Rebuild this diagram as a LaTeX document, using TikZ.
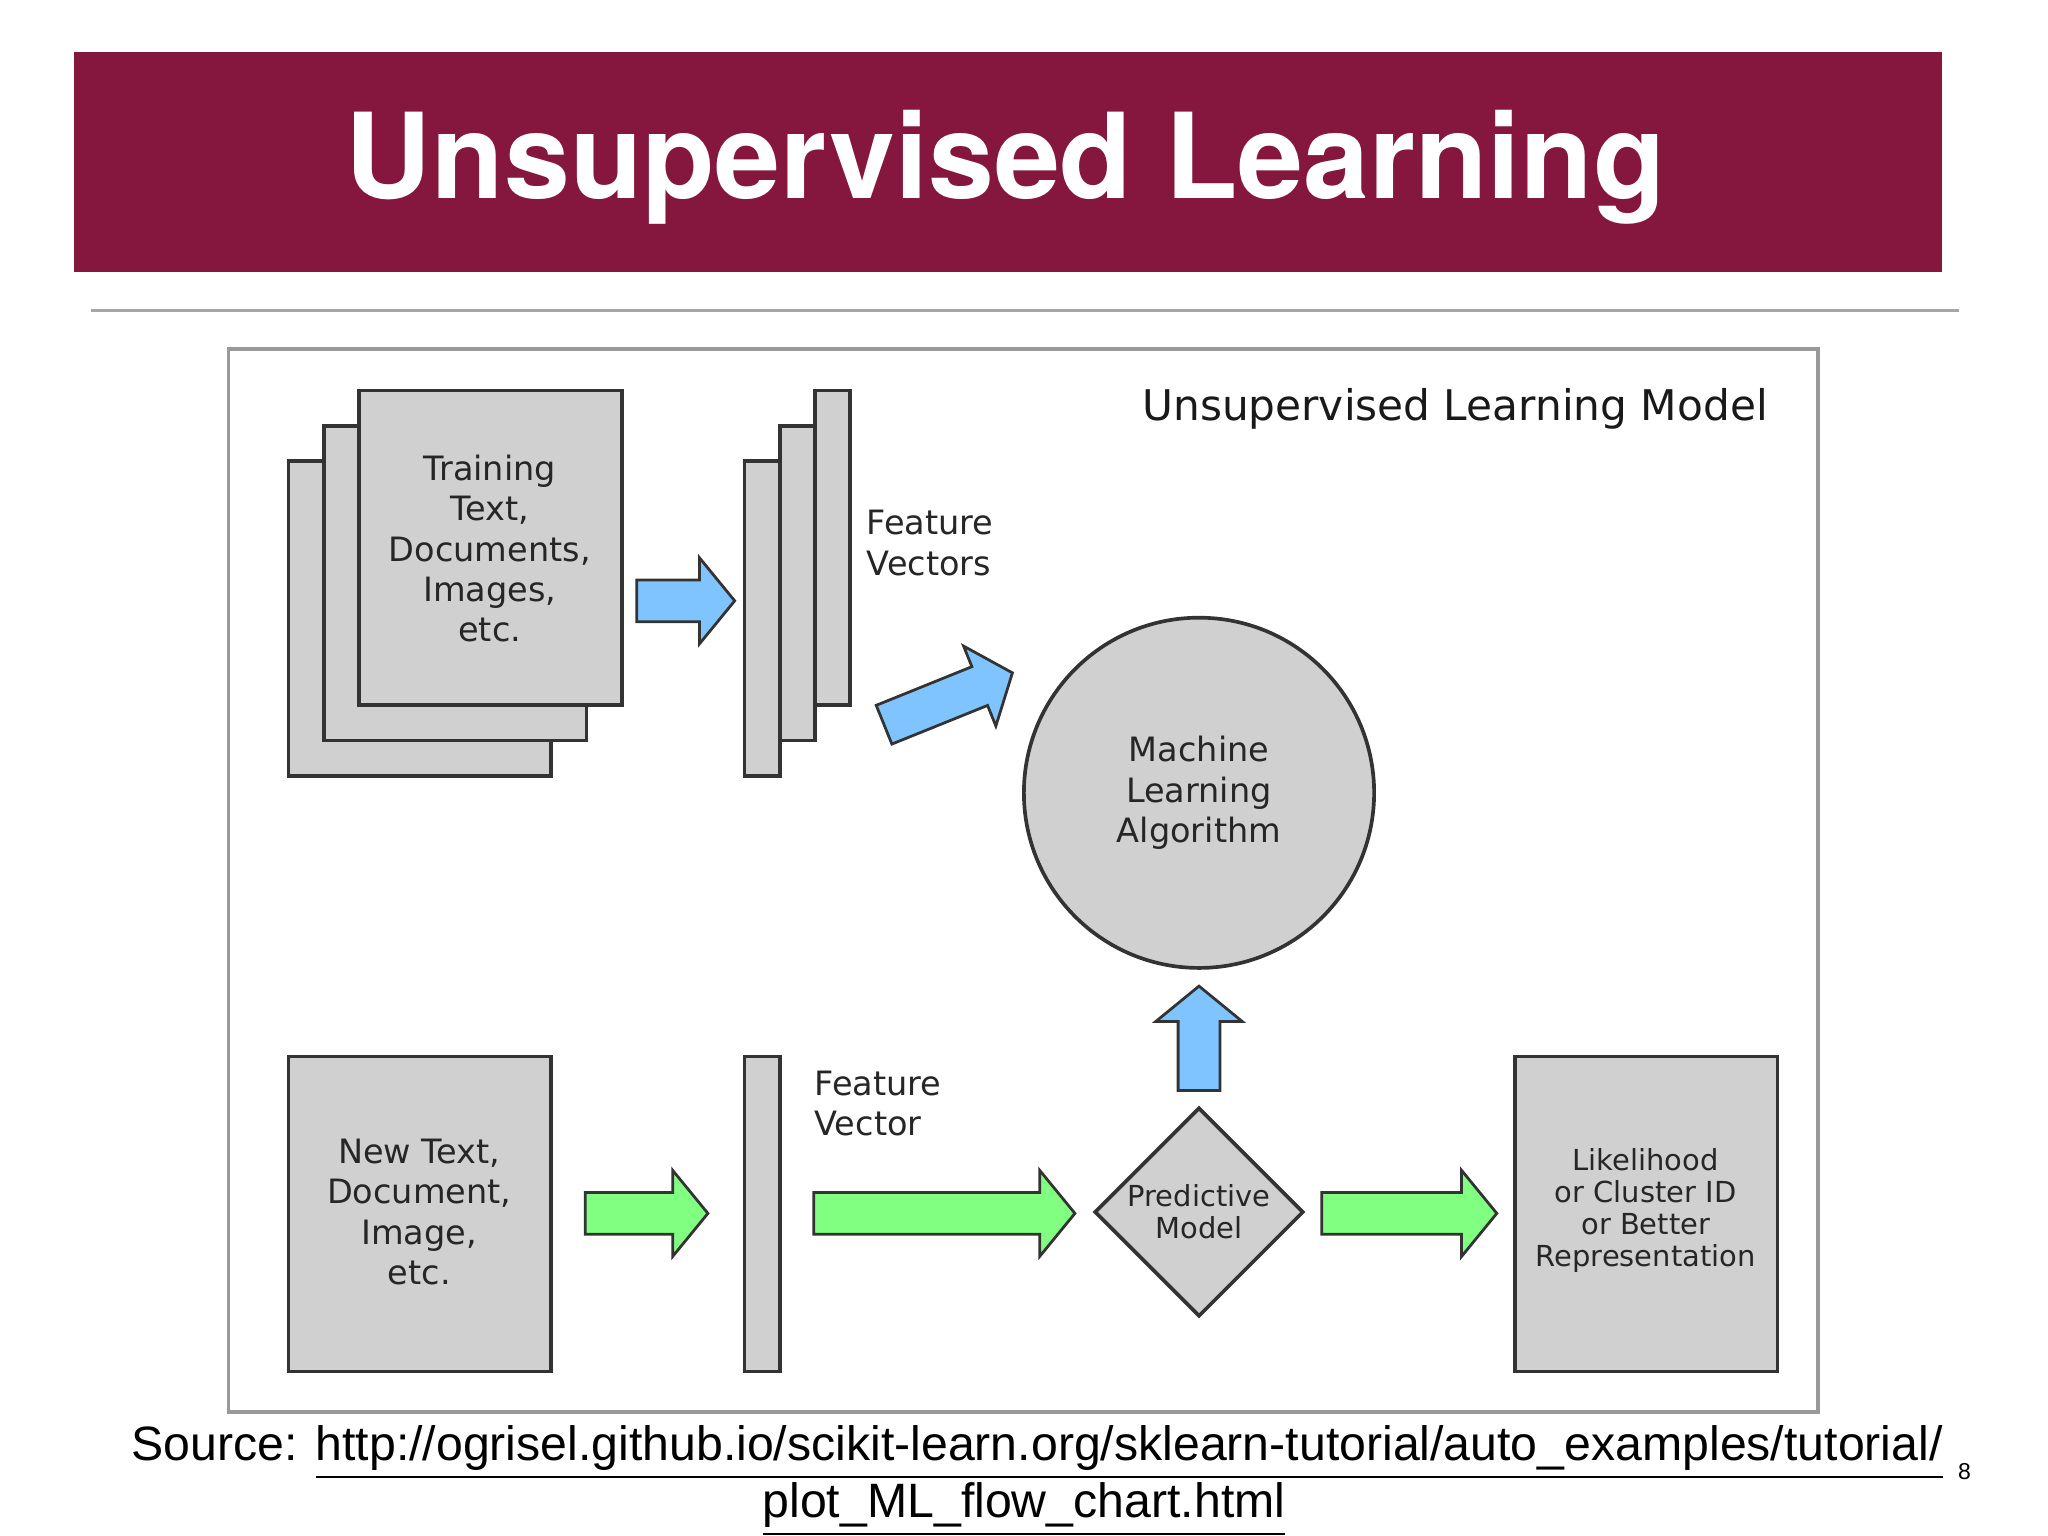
\documentclass[tikz,border=0pt]{standalone}
\usepackage{fontspec}
\setmainfont{DejaVu Sans}
\newfontfamily\heros{TeX Gyre Heros}
\newfontfamily\libsans{Liberation Sans}
\usetikzlibrary{shapes.geometric}
\definecolor{banner}{HTML}{85163D}
\definecolor{docgray}{HTML}{D0D0D0}
\definecolor{ablue}{HTML}{80C4FF}
\definecolor{agreen}{HTML}{80FF80}
\newcommand{\blockarrow}[5]{%
  \begin{scope}[shift={(#1,#2)},rotate=#4]
    \filldraw[fill=#5,draw=black!80,line width=0.6pt]
      (-#3/2,-16)--(#3/2-27,-16)--(#3/2-27,-33)--(#3/2,0)--(#3/2-27,33)--(#3/2-27,16)--(-#3/2,16)--cycle;
  \end{scope}}
\begin{document}
\begin{tikzpicture}[x=0.01cm,y=-0.01cm,
  doc/.style={draw=black!80,fill=docgray,line width=0.8pt},
  lbl/.style={font=\fontsize{7.3pt}{8.8pt}\selectfont,align=center,text=black!85},
  lbll/.style={font=\fontsize{7.3pt}{8.8pt}\selectfont,align=left,text=black!85,anchor=north west,inner sep=0}]
\useasboundingbox[fill=white] (0,0) rectangle (1568,1176);
\fill[banner] (57,40) rectangle (1487,208);
\node[text=white,font=\heros\bfseries\fontsize{25.8pt}{30pt}\selectfont] (title) at (770,128) {Unsupervised Learning};
\draw[black!35,line width=0.6pt] (70,238) -- (1500,238);
\draw[black!40,line width=0.8pt] (175,267) rectangle (1392,1081);
% training docs
\draw[doc] (221,353) rectangle (422,594);
\draw[doc] (248,326) rectangle (449,567);
\draw[doc] (275,299) rectangle (476,540);
\node[lbl] (train) at (375,420) {Training\\Text,\\Documents,\\Images,\\etc.};
\blockarrow{525}{460}{75}{0}{ablue}
\draw[doc] (570,353) rectangle (597,594);
\draw[doc] (597,326) rectangle (624,567);
\draw[doc] (624,299) rectangle (651,540);
\node[lbll] (fv) at (663,390) {Feature\\Vectors};
\node[font=\fontsize{9.2pt}{11pt}\selectfont,text=black!90] (model) at (1114,313) {Unsupervised Learning Model};
\blockarrow{726}{535}{106}{22}{ablue}
\node[circle,doc,minimum size=2.68cm] (alg) at (918,607) {};
\node[lbl] at (alg) {Machine\\Learning\\Algorithm};
\blockarrow{918}{795}{80}{90}{ablue}
% bottom row
\draw[doc] (221,809) rectangle (422,1050);
\node[lbl] (newdoc) at (321,928) {New Text,\\Document,\\Image,\\etc.};
\blockarrow{495}{929}{94}{0}{agreen}
\draw[doc] (570,809) rectangle (597,1050);
\node[lbll] (fv2) at (623,819) {Feature\\Vector};
\blockarrow{723}{929}{200}{0}{agreen}
\node[diamond,doc,minimum width=1.6cm,minimum height=1.6cm,inner sep=0] (pm) at (918,928) {};
\node[font=\fontsize{6.3pt}{7pt}\selectfont,align=center,text=black!85] at (pm) {Predictive\\Model};
\blockarrow{1079}{929}{134}{0}{agreen}
\draw[doc] (1160,809) rectangle (1361,1050);
\node[font=\fontsize{6.3pt}{7pt}\selectfont,align=center,text=black!85] (out) at (1260,927) {Likelihood\\or Cluster ID\\or Better\\Representation};
% source
\node[anchor=base west,inner sep=0,font=\libsans\fontsize{10.5pt}{12pt}\selectfont] (src) at (100,1118) {Source: \underline{http://ogrisel.github.io/scikit-learn.org/sklearn-tutorial/auto\_examples/tutorial/}};
\node[anchor=base,inner sep=0,font=\libsans\fontsize{10.5pt}{12pt}\selectfont] (src2) at (784,1162) {\underline{plot\_ML\_flow\_chart.html}};
\node[font=\libsans\fontsize{5pt}{6pt}\selectfont] (pg) at (1504,1127) {8};
\end{tikzpicture}
\end{document}
